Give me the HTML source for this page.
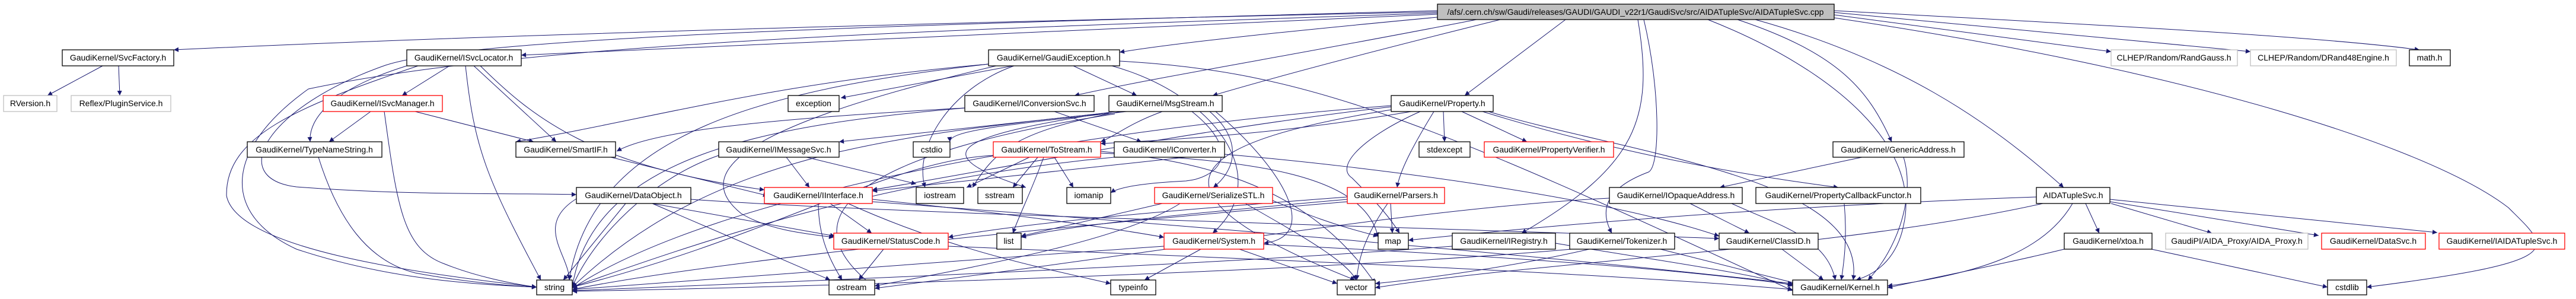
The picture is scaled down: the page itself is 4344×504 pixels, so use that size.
<!DOCTYPE html>
<html><head><meta charset="utf-8"><style>
html,body{margin:0;padding:0;background:#fff;}
svg{display:block;}
text{font-family:"Liberation Sans",sans-serif;font-size:14px;fill:#000;text-anchor:middle;}
.b{fill:#fff;stroke:#000;stroke-width:1.3;}
.r{fill:#fff;stroke:#f00;stroke-width:1.3;}
.g{fill:#fff;stroke:#bfbfbf;stroke-width:1.3;}
.e path{fill:none;stroke:#191970;stroke-width:1;marker-end:url(#a);}
</style></head><body>
<svg width="4344" height="504" viewBox="0 0 4344 504" xmlns="http://www.w3.org/2000/svg">
<defs><marker id="a" viewBox="0 0 10 10" refX="10" refY="5" markerWidth="10" markerHeight="8" markerUnits="userSpaceOnUse" orient="auto"><path d="M0,0 L10,5 L0,10 z" fill="#191970"/></marker></defs>
<g class="e">
<!-- from main -->
<path d="M2424,20 C1500,40 800,60 293,84"/>
<path d="M2424,24 C1800,50 1200,75 879,93"/>
<path d="M2424,29 C2200,50 2000,70 1888,88"/>
<path d="M2490,33 C2200,90 1950,130 1812,161"/>
<path d="M2530,33 C2300,90 2150,130 2045,161"/>
<path d="M2640,33 L2470,161"/>
<path d="M2762,33 C2790,200 2760,280 2566,393"/>
<path d="M2772,33 C2800,150 2800,280 2780,290 C2700,320 2700,360 2718,393"/>
<path d="M2930,33 C3100,90 3150,150 3190,239"/>
<path d="M2960,33 C3200,100 3350,200 3480,316"/>
<path d="M3093,25 L3560,87"/>
<path d="M3093,21 L3795,87"/>
<path d="M3093,18 C3500,40 3900,60 4080,84"/>
<path d="M3093,30 C3700,120 4100,250 4230,350 C4300,420 4340,440 3991,484"/>
<path d="M2880,33 C3100,120 3240,250 3210,380 C3200,430 3170,460 3130,472"/>
<path d="M2424,18 C1600,40 800,60 650,110 C450,180 380,300 500,315 C700,330 850,325 972,328"/>
<path d="M2424,22 C1600,50 900,70 520,150 C380,250 370,360 500,420 C650,470 800,480 905,484"/>
<!-- SvcFactory -->
<path d="M173,111 L80,161"/>
<path d="M200,111 L202,161"/>
<!-- ISvcLocator -->
<path d="M758,111 L678,161"/>
<path d="M686,111 C560,150 520,200 523,239"/>
<path d="M799,111 L938,239"/>
<path d="M785,111 C800,250 820,300 912,472"/>
<path d="M810,111 C900,200 1000,280 1289,320"/>
<path d="M705,111 C500,180 380,230 382,330 C400,420 700,460 905,484"/>
<!-- ISvcManager -->
<path d="M625,188 L555,239"/>
<path d="M700,188 L900,239"/>
<path d="M648,188 C670,350 680,420 750,445 C800,465 860,478 905,484"/>
<!-- TypeNameString -->
<path d="M537,265 C570,370 620,440 700,460 C780,475 860,482 905,484"/>
<!-- SmartIF -->
<path d="M1030,265 L1295,330"/>
<!-- DataObject -->
<path d="M1055,343 L950,472"/>
<path d="M1100,343 L1408,398"/>
<path d="M1165,336 C1500,360 2300,380 2899,402"/>
<path d="M1100,343 L1400,472"/>
<path d="M972,335 C900,380 960,430 960,472"/>
<!-- GaudiException -->
<path d="M1708,111 L1418,165"/>
<path d="M1667,108 C1300,140 1100,200 870,239"/>
<path d="M1710,111 C1600,150 1540,250 1560,316"/>
<path d="M1810,111 L1917,161"/>
<path d="M1680,111 C1300,200 1150,280 1250,360 C1300,390 1370,395 1406,400"/>
<path d="M1875,111 C2050,160 2150,300 2045,393"/>
<path d="M1888,103 C2200,120 2400,200 3023,490"/>
<path d="M1667,108 C1300,150 1000,220 960,472"/>
<!-- IConversionSvc -->
<path d="M1778,188 L1925,239"/>
<path d="M1627,182 C1300,200 1100,220 1040,255"/>
<path d="M1627,182 C1300,210 1000,260 965,484"/>
<!-- MsgStream -->
<path d="M1870,190 L1415,239"/>
<path d="M1900,188 C1700,210 1600,220 1602,239"/>
<path d="M1960,188 C1900,210 1880,230 1856,239"/>
<path d="M2010,188 C2100,260 2050,300 2000,305 C1900,310 1880,320 1873,325"/>
<path d="M2040,188 C2100,240 2080,290 2046,316"/>
<path d="M1890,188 C1720,220 1680,250 1640,316"/>
<path d="M1880,188 C1600,230 1560,260 1730,316"/>
<path d="M2050,188 C2180,300 2220,400 2131,410"/>
<path d="M1870,190 C1500,230 1200,260 965,484"/>
<path d="M1880,192 C1500,250 1300,350 1475,484"/>
<!-- IMessageSvc -->
<path d="M1326,265 L1365,316"/>
<path d="M1360,265 L1545,310"/>
<path d="M1212,262 C1100,300 1000,400 965,484"/>
<!-- ToStream -->
<path d="M1736,265 L1630,316"/>
<path d="M1750,265 L1708,316"/>
<path d="M1778,265 L1810,316"/>
<path d="M1760,265 C1740,320 1720,360 1708,393"/>
<path d="M1856,255 C2000,270 2200,300 2319,478"/>
<path d="M1856,258 C2100,270 2300,290 2324,400"/>
<path d="M1675,262 C1500,270 1300,400 965,484"/>
<!-- IConverter -->
<path d="M2065,260 C2300,280 2700,330 2899,398"/>
<path d="M2000,265 L1471,322"/>
<path d="M1879,265 C1500,300 1200,400 965,484"/>
<!-- IInterface -->
<path d="M1400,343 L1470,393"/>
<path d="M1380,343 C1380,400 1400,440 1420,472"/>
<path d="M1430,343 C1600,420 1750,450 1873,478"/>
<path d="M1471,340 C2000,380 2600,430 3023,478"/>
<path d="M1471,336 C1700,360 1850,380 1963,400"/>
<!-- SerializeSTL -->
<path d="M1960,343 L1722,398"/>
<path d="M1990,343 C1900,400 1700,440 1475,482"/>
<path d="M2100,343 C2200,400 2270,440 2287,472"/>
<path d="M2146,338 C2200,360 2250,380 2324,398"/>
<!-- StatusCode -->
<path d="M1490,420 L1448,472"/>
<path d="M1599,415 C2200,440 2700,460 3023,488"/>
<!-- System -->
<path d="M2025,420 L1930,472"/>
<path d="M2090,420 L2255,478"/>
<path d="M2131,412 C2500,430 2800,450 3023,480"/>
<path d="M1963,415 C1600,440 1200,470 965,488"/>
<!-- Property -->
<path d="M2434,188 L2436,239"/>
<path d="M2465,188 L2575,239"/>
<path d="M2418,188 C2380,250 2360,290 2356,316"/>
<path d="M2500,188 C2700,250 2900,290 3100,316"/>
<path d="M2510,188 C2750,260 3150,300 3125,472"/>
<path d="M2380,188 C2250,210 2100,230 1856,242"/>
<path d="M2346,180 C2000,220 1600,300 1471,320"/>
<path d="M2346,178 C1800,220 1200,330 965,486"/>
<path d="M2395,188 C2300,230 2250,280 2280,300 C2310,330 2340,360 2360,393"/>
<path d="M2346,185 C2000,240 1900,320 2285,472"/>
<!-- GenericAddress -->
<path d="M3140,265 L2900,316"/>
<path d="M3210,265 C3230,330 3200,420 3150,472"/>
<!-- Parsers -->
<path d="M2345,343 L2348,393"/>
<path d="M2340,343 C2300,400 2290,440 2288,472"/>
<path d="M2272,336 C2000,360 1800,380 1722,400"/>
<path d="M2272,332 C1900,360 1700,380 1599,400"/>
<path d="M2272,340 C1800,380 1200,440 965,488"/>
<!-- IOpaqueAddress -->
<path d="M2850,343 L2950,393"/>
<path d="M2920,343 C3000,380 3080,400 3095,472"/>
<path d="M2714,334 C2400,350 2000,420 1475,486"/>
<!-- PropertyCallbackFunctor -->
<path d="M3110,343 C3115,400 3110,440 3105,472"/>
<!-- IRegistry -->
<path d="M2623,410 C2800,440 2950,460 3023,482"/>
<path d="M2449,415 C2000,450 1200,480 965,490"/>
<!-- Tokenizer -->
<path d="M2800,420 L3030,478"/>
<path d="M2680,420 C2550,450 2400,470 2319,478"/>
<path d="M2650,420 C2200,460 1300,485 965,491"/>
<!-- ClassID -->
<path d="M3005,420 L3075,472"/>
<!-- AIDATupleSvc -->
<path d="M3517,343 L3540,393"/>
<path d="M3560,343 L3730,393"/>
<path d="M3558,340 L3910,397"/>
<path d="M3558,336 L4110,392"/>
<path d="M3495,343 C3450,420 3350,460 3183,482"/>
<path d="M3434,332 C3200,340 2800,360 2375,405"/>
<path d="M3445,343 C3100,420 2600,440 2319,485"/>
<!-- xtoa -->
<path d="M3628,420 L3925,484"/>
<path d="M3481,420 C3400,440 3300,460 3183,485"/>
</g>
<!-- nodes -->
<rect class="b" x="2424" y="7" width="669" height="26" style="fill:#bfbfbf"/>
<text x="2758" y="25">/afs/.cern.ch/sw/Gaudi/releases/GAUDI/GAUDI_v22r1/GaudiSvc/src/AIDATupleSvc/AIDATupleSvc.cpp</text>
<rect class="b" x="105" y="84" width="188" height="27"/><text x="199" y="102">GaudiKernel/SvcFactory.h</text>
<rect class="g" x="6" y="161" width="90" height="27"/><text x="51" y="179">RVersion.h</text>
<rect class="g" x="120" y="161" width="168" height="27"/><text x="204" y="179">Reflex/PluginService.h</text>
<rect class="b" x="686" y="84" width="193" height="27"/><text x="782" y="102">GaudiKernel/ISvcLocator.h</text>
<rect class="r" x="545" y="161" width="201" height="27"/><text x="645" y="179">GaudiKernel/ISvcManager.h</text>
<rect class="b" x="417" y="239" width="227" height="26"/><text x="530" y="257">GaudiKernel/TypeNameString.h</text>
<rect class="b" x="870" y="239" width="168" height="26"/><text x="954" y="257">GaudiKernel/SmartIF.h</text>
<rect class="b" x="972" y="316" width="193" height="27"/><text x="1068" y="334">GaudiKernel/DataObject.h</text>
<rect class="b" x="905" y="472" width="60" height="25"/><text x="935" y="489">string</text>
<rect class="b" x="1667" y="84" width="221" height="27"/><text x="1777" y="102">GaudiKernel/GaudiException.h</text>
<rect class="b" x="1329" y="161" width="86" height="27"/><text x="1372" y="179">exception</text>
<rect class="b" x="1627" y="161" width="218" height="27"/><text x="1736" y="179">GaudiKernel/IConversionSvc.h</text>
<rect class="b" x="1870" y="161" width="191" height="27"/><text x="1965" y="179">GaudiKernel/MsgStream.h</text>
<rect class="b" x="1212" y="239" width="203" height="26"/><text x="1313" y="257">GaudiKernel/IMessageSvc.h</text>
<rect class="b" x="1540" y="239" width="62" height="26"/><text x="1571" y="257">cstdio</text>
<rect class="r" x="1675" y="239" width="181" height="26"/><text x="1765" y="257">GaudiKernel/ToStream.h</text>
<rect class="b" x="1879" y="239" width="186" height="26"/><text x="1972" y="257">GaudiKernel/IConverter.h</text>
<rect class="r" x="1289" y="316" width="182" height="27"/><text x="1380" y="334">GaudiKernel/IInterface.h</text>
<rect class="b" x="1545" y="316" width="80" height="27"/><text x="1585" y="334">iostream</text>
<rect class="b" x="1649" y="316" width="75" height="27"/><text x="1686" y="334">sstream</text>
<rect class="b" x="1799" y="316" width="74" height="27"/><text x="1836" y="334">iomanip</text>
<rect class="r" x="1947" y="316" width="199" height="27"/><text x="2046" y="334">GaudiKernel/SerializeSTL.h</text>
<rect class="r" x="1406" y="393" width="193" height="27"/><text x="1502" y="411">GaudiKernel/StatusCode.h</text>
<rect class="b" x="1681" y="393" width="41" height="27"/><text x="1701" y="411">list</text>
<rect class="r" x="1963" y="393" width="168" height="27"/><text x="2047" y="411">GaudiKernel/System.h</text>
<rect class="b" x="1398" y="472" width="77" height="25"/><text x="1436" y="489">ostream</text>
<rect class="b" x="1873" y="472" width="76" height="25"/><text x="1911" y="489">typeinfo</text>
<rect class="b" x="2346" y="161" width="172" height="27"/><text x="2432" y="179">GaudiKernel/Property.h</text>
<rect class="b" x="2393" y="239" width="86" height="26"/><text x="2436" y="257">stdexcept</text>
<rect class="r" x="2503" y="239" width="218" height="26"/><text x="2612" y="257">GaudiKernel/PropertyVerifier.h</text>
<rect class="b" x="3091" y="239" width="221" height="26"/><text x="3201" y="257">GaudiKernel/GenericAddress.h</text>
<rect class="r" x="2272" y="316" width="164" height="27"/><text x="2354" y="334">GaudiKernel/Parsers.h</text>
<rect class="b" x="2714" y="316" width="224" height="27"/><text x="2826" y="334">GaudiKernel/IOpaqueAddress.h</text>
<rect class="b" x="2961" y="316" width="278" height="27"/><text x="3100" y="334">GaudiKernel/PropertyCallbackFunctor.h</text>
<rect class="b" x="2324" y="393" width="51" height="27"/><text x="2349" y="411">map</text>
<rect class="b" x="2449" y="393" width="174" height="27"/><text x="2536" y="411">GaudiKernel/IRegistry.h</text>
<rect class="b" x="2647" y="393" width="177" height="27"/><text x="2735" y="411">GaudiKernel/Tokenizer.h</text>
<rect class="b" x="2899" y="393" width="167" height="27"/><text x="2982" y="411">GaudiKernel/ClassID.h</text>
<rect class="b" x="2255" y="472" width="64" height="25"/><text x="2287" y="489">vector</text>
<rect class="b" x="3023" y="472" width="160" height="25"/><text x="3103" y="489">GaudiKernel/Kernel.h</text>
<rect class="g" x="3560" y="84" width="213" height="27"/><text x="3666" y="102">CLHEP/Random/RandGauss.h</text>
<rect class="g" x="3795" y="84" width="246" height="27"/><text x="3918" y="102">CLHEP/Random/DRand48Engine.h</text>
<rect class="b" x="4063" y="84" width="69" height="27"/><text x="4097" y="102">math.h</text>
<rect class="b" x="3434" y="316" width="124" height="27"/><text x="3496" y="334">AIDATupleSvc.h</text>
<rect class="b" x="3481" y="393" width="148" height="27"/><text x="3555" y="411">GaudiKernel/xtoa.h</text>
<rect class="g" x="3652" y="393" width="240" height="27"/><text x="3772" y="411">GaudiPI/AIDA_Proxy/AIDA_Proxy.h</text>
<rect class="r" x="3915" y="393" width="175" height="27"/><text x="4002" y="411">GaudiKernel/DataSvc.h</text>
<rect class="r" x="4113" y="393" width="212" height="27"/><text x="4219" y="411">GaudiKernel/IAIDATupleSvc.h</text>
<rect class="b" x="3925" y="472" width="66" height="25"/><text x="3958" y="489">cstdlib</text>
</svg>
</body></html>
